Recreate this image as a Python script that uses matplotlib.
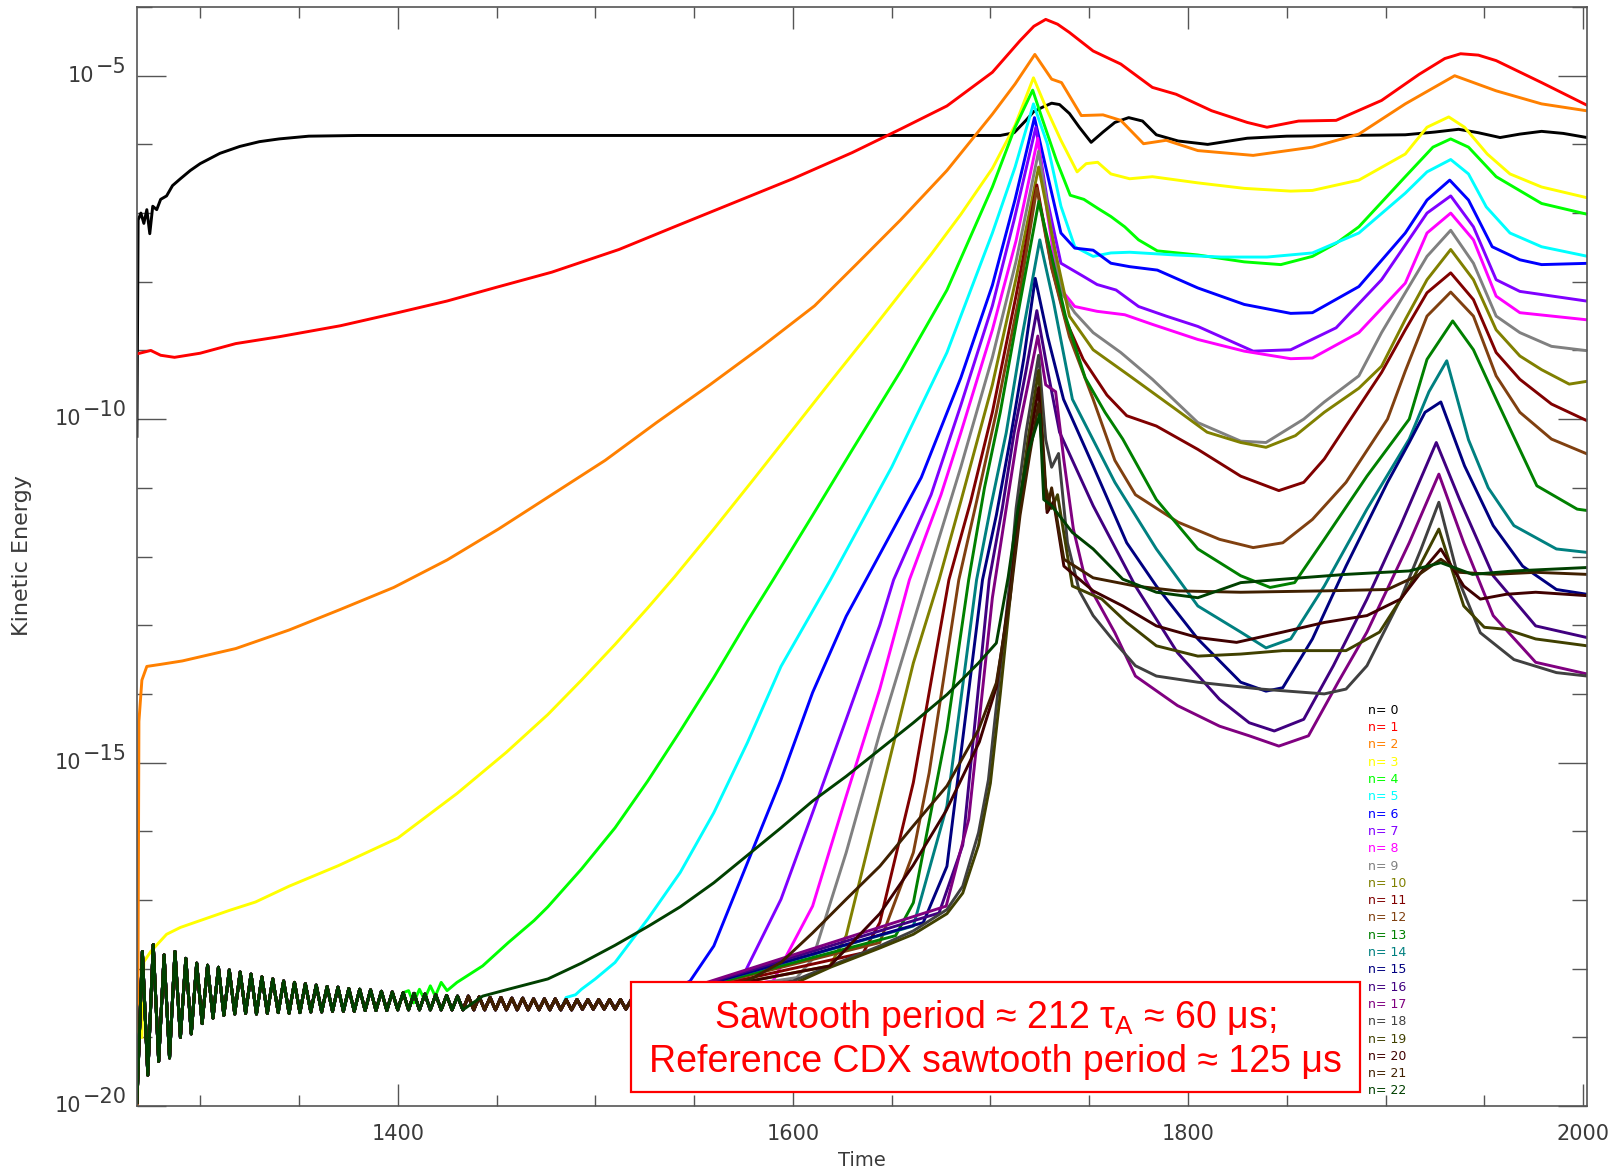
import numpy as np
import matplotlib.pyplot as plt
from matplotlib.patches import Rectangle
from matplotlib.ticker import FixedLocator, MultipleLocator, NullFormatter
from matplotlib.transforms import blended_transform_factory

plt.rcParams['mathtext.fontset'] = 'custom'
plt.rcParams['mathtext.rm'] = 'Liberation Sans'
plt.rcParams['mathtext.it'] = 'Liberation Sans:italic'

# shared noisy floor that the high-n modes sit on before they grow (log10 KE)
floor_t = np.arange(1268, 1531, 2.75)
floor_ke = [-19.95, -17.75, -19.55, -17.65, -19.35, -17.80, -19.30, -17.75, -19.00, -17.85,
            -18.95, -17.92, -18.80, -17.95, -18.72, -17.98, -18.68, -18.02, -18.66, -18.05,
            -18.65, -18.08, -18.66, -18.12, -18.65, -18.15, -18.64, -18.18, -18.65, -18.20,
            -18.64, -18.22, -18.63, -18.24, -18.63, -18.26, -18.62, -18.27, -18.62, -18.29,
            -18.62, -18.30, -18.61, -18.31, -18.61, -18.33, -18.61, -18.34, -18.60, -18.35,
            -18.60, -18.36, -18.60, -18.37, -18.60, -18.38, -18.60, -18.39, -18.60, -18.40,
            -18.60, -18.40, -18.60, -18.41, -18.60, -18.42, -18.60, -18.42, -18.60, -18.43,
            -18.60, -18.43, -18.60, -18.44, -18.60, -18.44, -18.60, -18.44, -18.60, -18.45,
            -18.60, -18.45, -18.59, -18.45, -18.59, -18.45, -18.59, -18.45, -18.59, -18.45,
            -18.59, -18.45, -18.59, -18.45, -18.59, -18.45]

t_n0 = [1268, 1268.6, 1270, 1271.5, 1273, 1274.5, 1276, 1278, 1280, 1283, 1286, 1290, 1295, 1300,
        1310, 1320, 1330, 1340, 1355, 1380, 1450, 1550, 1650, 1705, 1712, 1718, 1722, 1727, 1731,
        1735, 1740, 1745, 1751, 1757, 1763, 1770, 1777, 1784, 1795, 1810, 1830, 1850, 1880, 1910,
        1925, 1937, 1947, 1958, 1968, 1979, 1990, 2002]
ke_n0 = [-10.25, -7.1, -7.0, -7.15, -6.95, -7.3, -6.9, -6.95, -6.8, -6.75, -6.6, -6.5, -6.38, -6.28,
         -6.13, -6.03, -5.96, -5.92, -5.88, -5.87, -5.87, -5.87, -5.87, -5.87, -5.83, -5.65, -5.52,
         -5.45, -5.40, -5.42, -5.55, -5.75, -5.97, -5.82, -5.68, -5.61, -5.66, -5.86, -5.95, -6.0,
         -5.91, -5.88, -5.87, -5.86, -5.82, -5.78, -5.83, -5.9, -5.85, -5.81, -5.84, -5.9]

t_n1 = [1268, 1275, 1280, 1287, 1300, 1318, 1340, 1371, 1400, 1425, 1450, 1478, 1512, 1540, 1570,
        1600, 1630, 1655, 1678, 1701, 1715, 1722, 1728, 1734, 1740, 1752, 1766, 1782, 1794, 1812,
        1830, 1840, 1856, 1875, 1898, 1917, 1930, 1938, 1947, 1956, 1979, 2002]
ke_n1 = [-9.05, -9.0, -9.07, -9.1, -9.04, -8.9, -8.8, -8.64, -8.45, -8.28, -8.08, -7.86, -7.53, -7.2,
         -6.85, -6.5, -6.12, -5.77, -5.44, -4.95, -4.49, -4.28, -4.18, -4.25, -4.37, -4.64, -4.83,
         -5.17, -5.27, -5.51, -5.68, -5.75, -5.66, -5.65, -5.36, -4.98, -4.75, -4.68, -4.7, -4.78,
         -5.1, -5.43]

t_n2 = [1268.3, 1269, 1270.5, 1273, 1280, 1291, 1318, 1345, 1371, 1398, 1425, 1451, 1478, 1505, 1531,
        1558, 1584, 1611, 1632, 1654.5, 1678, 1701, 1712.5, 1722.5, 1731, 1736, 1746, 1757, 1766,
        1777.5, 1789, 1805, 1833, 1863, 1886.5, 1910, 1935, 1956, 1979, 2004]
ke_n2 = [-20.0, -14.4, -13.8, -13.6, -13.57, -13.52, -13.34, -13.07, -12.77, -12.45, -12.05, -11.6,
         -11.1, -10.6, -10.05, -9.5, -8.95, -8.35, -7.75, -7.1, -6.38, -5.56, -5.12, -4.69, -5.05,
         -5.1, -5.58, -5.57, -5.65, -5.99, -5.94, -6.09, -6.16, -6.04, -5.85, -5.41, -5.0, -5.22,
         -5.41, -5.52]

t_n3 = [1270.5, 1271.5, 1275, 1283, 1290, 1300, 1315, 1328, 1345, 1370, 1400, 1430, 1455, 1476, 1493,
        1510, 1526.5, 1540, 1560, 1580, 1600, 1620, 1640, 1655, 1670, 1685, 1701, 1712.5, 1721.8,
        1728.8, 1735.7, 1743.9, 1748.5, 1754.3, 1761, 1770.5, 1782, 1805, 1828.5, 1852, 1863,
        1886.5, 1910, 1921, 1932, 1940, 1951.5, 1963, 1979, 2004]
ke_n3 = [-19.0, -17.9, -17.75, -17.5, -17.4, -17.3, -17.15, -17.03, -16.8, -16.5, -16.1, -15.45, -14.85,
         -14.3, -13.8, -13.28, -12.75, -12.3, -11.6, -10.88, -10.15, -9.42, -8.7, -8.15, -7.6,
         -7.02, -6.35, -5.72, -5.03, -5.51, -5.94, -6.4, -6.28, -6.26, -6.43, -6.5, -6.47, -6.56,
         -6.64, -6.68, -6.67, -6.52, -6.14, -5.75, -5.6, -5.75, -6.14, -6.43, -6.62, -6.79]

t_n4 = [1405.5, 1408, 1411, 1413.5, 1416.5, 1419, 1422, 1425, 1430, 1443, 1456, 1469, 1476, 1493, 1510,
        1526.5, 1543, 1560, 1577, 1590, 1610, 1630, 1655, 1678, 1701, 1712.5, 1721.4, 1726.5, 1733.4,
        1740.4, 1747.3, 1754.3, 1761, 1768, 1775, 1784.5, 1805, 1828.5, 1847, 1863, 1875, 1886.5,
        1910, 1924, 1933, 1942, 1956, 1979, 2004]
ke_n4 = [-18.32, -18.5, -18.3, -18.45, -18.25, -18.4, -18.2, -18.32, -18.2, -17.96, -17.62, -17.3,
         -17.1, -16.55, -15.95, -15.27, -14.54, -13.76, -12.94, -12.34, -11.4, -10.45, -9.28, -8.12,
         -6.62, -5.75, -5.21, -5.65, -6.23, -6.74, -6.8, -6.93, -7.05, -7.2, -7.39, -7.55, -7.61,
         -7.71, -7.75, -7.63, -7.44, -7.2, -6.47, -6.04, -5.92, -6.04, -6.47, -6.86, -7.03]

t_n5 = [1485.25, 1490, 1493, 1500, 1510, 1526.5, 1543, 1560, 1577, 1594, 1619, 1650, 1678, 1701,
        1712.5, 1721.8, 1728.8, 1735.7, 1742.7, 1752, 1761, 1770.5, 1793.7, 1817, 1840, 1863, 1886.5,
        1910, 1921, 1933, 1942, 1951, 1963, 1979, 2004]
ke_n5 = [-18.42, -18.38, -18.3, -18.15, -17.91, -17.28, -16.6, -15.73, -14.71, -13.6, -12.34, -10.7,
         -9.03, -7.29, -6.33, -5.41, -5.99, -6.9, -7.49, -7.63, -7.58, -7.57, -7.61, -7.64, -7.64,
         -7.58, -7.29, -6.71, -6.4, -6.22, -6.43, -6.91, -7.29, -7.49, -7.64]

t_n6 = [1548, 1560, 1577, 1594, 1610, 1627, 1637, 1665, 1685, 1701, 1712.5, 1722.3, 1728.8, 1735.7,
        1742.7, 1752, 1761, 1770.5, 1784.5, 1805, 1828.5, 1852, 1863, 1886.5, 1910, 1921, 1932.5,
        1942, 1954, 1968, 1979, 2004]
ke_n6 = [-18.18, -17.67, -16.46, -15.25, -13.98, -12.87, -12.34, -10.85, -9.4, -8.05, -6.8, -5.61,
         -6.43, -7.29, -7.51, -7.54, -7.73, -7.78, -7.83, -8.09, -8.33, -8.46, -8.45, -8.07, -7.29,
         -6.81, -6.52, -6.81, -7.49, -7.68, -7.75, -7.73]

t_n7 = [1573.5, 1594, 1610, 1627, 1644, 1651, 1670, 1685, 1701, 1712, 1723, 1728.8, 1735.7, 1747, 1754,
        1763.6, 1775, 1789, 1805, 1833, 1852, 1875, 1898, 1921, 1933, 1944.5, 1956, 1968, 2004]
ke_n7 = [-18.18, -16.99, -15.73, -14.37, -13.0, -12.34, -11.1, -9.8, -8.35, -7.1, -5.75, -6.81, -7.73,
         -7.92, -8.04, -8.12, -8.36, -8.5, -8.65, -9.01, -8.99, -8.67, -7.97, -7.0, -6.75, -7.2, -7.97,
         -8.14, -8.29]

t_n8 = [1590, 1610, 1627, 1644, 1659, 1675, 1685, 1701, 1713, 1724, 1728.8, 1734.6, 1742.7, 1754, 1768,
        1782, 1805, 1828.5, 1852, 1863, 1886.5, 1910, 1921, 1933, 1944.5, 1956, 1968, 2004]
ke_n8 = [-18.18, -17.09, -15.49, -13.93, -12.34, -11.1, -10.2, -8.7, -7.4, -5.91, -7.0, -8.07, -8.36,
         -8.43, -8.48, -8.62, -8.84, -9.01, -9.12, -9.11, -8.74, -8.02, -7.29, -7.0, -7.39, -8.21,
         -8.45, -8.56]

t_n9 = [1602, 1610, 1627, 1644, 1667.5, 1685, 1701, 1713, 1724.4, 1731, 1736, 1742.7, 1752, 1766, 1782,
        1805, 1826.7, 1839.5, 1858.6, 1869, 1886.5, 1898, 1910, 1921, 1933, 1944.5, 1956, 1968, 1984,
        2004]
ke_n9 = [-18.13, -17.86, -16.31, -14.57, -12.34, -10.7, -9.1, -7.7, -6.1, -7.29, -8.16, -8.45, -8.74,
         -9.03, -9.42, -10.05, -10.32, -10.34, -10.0, -9.75, -9.37, -8.74, -8.16, -7.63, -7.25, -7.73,
         -8.5, -8.74, -8.94, -9.01]

t_n10 = [1618.8, 1627, 1644, 1661, 1674, 1685, 1701, 1713, 1724.4, 1733, 1740, 1752, 1770.5, 1794,
         1809.7, 1826.7, 1839.5, 1854.4, 1869, 1886.5, 1898, 1910, 1921, 1933, 1944.5, 1956, 1968,
         1979, 1993, 2004]
ke_n10 = [-17.96, -17.52, -15.54, -13.55, -12.34, -11.2, -9.5, -7.95, -6.33, -7.58, -8.5, -8.99, -9.37,
          -9.86, -10.19, -10.34, -10.41, -10.24, -9.9, -9.55, -9.23, -8.55, -7.97, -7.53, -7.97, -8.7,
          -9.08, -9.28, -9.49, -9.44]

t_n11 = [1635.6, 1644, 1661, 1679, 1690, 1701, 1713, 1723.5, 1731, 1738, 1747, 1759, 1769, 1784, 1805,
         1826.7, 1846, 1858.6, 1869, 1880, 1898, 1910, 1921, 1933, 1944.5, 1956, 1968, 1984, 2004]
ke_n11 = [-17.77, -17.33, -15.29, -12.34, -11.2, -9.9, -8.2, -6.59, -7.78, -8.55, -9.13, -9.65, -9.95,
          -10.1, -10.44, -10.83, -11.04, -10.92, -10.58, -10.1, -9.32, -8.7, -8.16, -7.87, -8.26,
          -9.03, -9.42, -9.78, -10.05]

t_n12 = [1644, 1661, 1669, 1684, 1693, 1703, 1714, 1723.5, 1731, 1740, 1752, 1763, 1773.4, 1795, 1816,
         1833, 1848, 1863, 1880, 1901, 1910, 1921, 1933, 1944.5, 1956, 1968, 1984, 2004]
ke_n12 = [-17.62, -16.31, -15.15, -12.34, -11.2, -9.9, -8.3, -6.64, -7.8, -8.8, -9.71, -10.6, -11.1,
          -11.5, -11.75, -11.87, -11.8, -11.46, -10.92, -10.0, -9.3, -8.5, -8.15, -8.5, -9.37, -9.9,
          -10.29, -10.53]

t_n13 = [1652, 1661, 1678, 1689, 1697, 1705, 1715, 1724.5, 1730, 1738, 1748, 1758, 1767, 1784, 1805,
         1826.7, 1841.6, 1854, 1869, 1890.6, 1912, 1921, 1934, 1944.5, 1956, 1976.6, 1997, 2002]
ke_n13 = [-17.52, -17.04, -14.52, -12.34, -11.0, -9.9, -8.3, -6.83, -7.5, -8.5, -9.4, -9.9, -10.29,
          -11.17, -11.89, -12.28, -12.45, -12.38, -11.75, -10.83, -10.0, -9.13, -8.57, -8.99, -9.71,
          -10.97, -11.31, -11.33]

t_n14 = [1661, 1678, 1693, 1700, 1708, 1716, 1725, 1732, 1741.5, 1763, 1784, 1805, 1826.7, 1839.5,
         1852, 1869, 1890.6, 1912, 1922, 1931, 1942, 1952, 1965, 1986.5, 2002]
ke_n14 = [-17.38, -15.63, -12.34, -11.3, -10.2, -8.8, -7.39, -8.3, -9.71, -10.92, -11.89, -12.72,
          -13.1, -13.33, -13.2, -12.43, -11.31, -10.29, -9.6, -9.15, -10.3, -11.0, -11.55, -11.89,
          -11.94]

t_n15 = [1666, 1678, 1696, 1703, 1710, 1717, 1722.7, 1729, 1737, 1752, 1769, 1784, 1805, 1826.7,
         1839.5, 1848, 1863, 1880, 1901, 1912, 1920, 1928, 1940, 1954.5, 1969.4, 1986.5, 2002]
ke_n15 = [-17.33, -16.51, -12.34, -11.4, -10.3, -9.1, -7.95, -8.8, -9.71, -10.68, -11.8, -12.43,
          -13.2, -13.83, -13.96, -13.91, -13.2, -12.14, -10.92, -10.34, -9.9, -9.75, -10.68, -11.55,
          -12.14, -12.48, -12.55]

t_n16 = [1674, 1686, 1699.4, 1706, 1712, 1718, 1723.5, 1729, 1735, 1752, 1773.4, 1794.7, 1816, 1831,
         1843.7, 1858.6, 1873.6, 1890.6, 1907.6, 1925.7, 1937.5, 1954.5, 1976, 2002]
ke_n16 = [-17.19, -16.2, -12.34, -11.3, -10.2, -9.3, -8.42, -9.3, -10.19, -11.26, -12.43, -13.4,
          -14.08, -14.42, -14.54, -14.37, -13.59, -12.62, -11.55, -10.34, -11.17, -12.28, -13.01,
          -13.18]

t_n17 = [1677.6, 1689, 1701, 1708, 1714, 1719, 1724, 1728, 1733, 1737.2, 1742, 1748, 1763, 1773.4,
         1794.7, 1816, 1831, 1846, 1861, 1876, 1890.6, 1912, 1927, 1939.6, 1954.5, 1976, 2002]
ke_n17 = [-17.09, -15.83, -12.6, -11.3, -10.2, -9.5, -8.79, -9.5, -9.6, -10.6, -11.6, -12.33, -13.11,
          -13.74, -14.17, -14.47, -14.61, -14.76, -14.61, -13.83, -13.1, -11.8, -10.8, -11.8, -12.86,
          -13.54, -13.71]

t_n18 = [1600, 1619, 1644, 1661, 1678, 1686, 1694, 1699, 1703, 1709.5, 1713, 1718, 1724.4, 1728, 1731,
         1734.5, 1739, 1745, 1752, 1763, 1773.4, 1784, 1805, 1837, 1869, 1880, 1890.6, 1907.6, 1918,
         1927, 1937.5, 1948, 1965, 1986.5, 2002]
ke_n18 = [-18.18, -17.96, -17.67, -17.45, -17.14, -16.8, -16.02, -15.25, -14.18, -12.45, -11.3, -10.2,
          -9.07, -10.3, -10.7, -10.5, -11.8, -12.5, -12.86, -13.25, -13.59, -13.74, -13.83, -13.93,
          -14.0, -13.93, -13.59, -12.62, -11.89, -11.21, -12.38, -13.11, -13.5, -13.69, -13.74]

t_n19 = [1602, 1619, 1644, 1661, 1678, 1686, 1694, 1700, 1705, 1710, 1714, 1719, 1724.4, 1728, 1731,
         1734, 1741.5, 1756.4, 1769, 1784, 1805, 1826.7, 1848, 1880, 1897, 1912, 1927, 1939.6, 1950,
         1961, 1976, 2002]
ke_n19 = [-18.2, -17.98, -17.7, -17.5, -17.2, -16.9, -16.2, -15.3, -14.0, -12.6, -11.4, -10.3, -9.29,
          -11.0, -11.3, -11.1, -12.43, -12.62, -12.96, -13.3, -13.45, -13.42, -13.37, -13.37, -13.1,
          -12.43, -11.6, -12.72, -13.03, -13.06, -13.2, -13.3]

t_n20 = [1618.8, 1644, 1660.8, 1677.6, 1694.4, 1703, 1710, 1715, 1720, 1724.4, 1728.7, 1732, 1737.2,
         1752, 1767, 1784, 1805, 1824.6, 1848, 1869, 1890.6, 1907.6, 1918, 1928, 1939.6, 1948, 1961,
         1976, 2002]
ke_n20 = [-17.96, -17.2, -16.5, -15.7, -14.7, -13.9, -12.5, -11.3, -10.3, -9.54, -11.36, -11.2,
          -12.14, -12.5, -12.72, -13.01, -13.18, -13.25, -13.1, -12.96, -12.86, -12.62, -12.23,
          -11.89, -12.43, -12.62, -12.55, -12.52, -12.57]

t_n21 = [1577, 1594, 1610, 1627, 1644, 1661, 1678, 1694, 1703, 1710, 1715, 1720, 1724.4, 1728.7, 1731,
         1737.2, 1752, 1773.4, 1794.7, 1826.7, 1869, 1901, 1916, 1928, 1937.5, 1954.5, 1976, 2002]
ke_n21 = [-18.18, -17.91, -17.48, -16.99, -16.51, -15.92, -15.34, -14.52, -13.84, -12.6, -11.4, -10.5,
          -9.77, -11.31, -11.0, -12.04, -12.31, -12.43, -12.5, -12.52, -12.5, -12.48, -12.28, -12.04,
          -12.23, -12.26, -12.23, -12.26]

t_n22 = [1443, 1456, 1476, 1493, 1510, 1527, 1543, 1560, 1577, 1594, 1610, 1627, 1644, 1661, 1678,
         1694, 1703, 1709, 1714, 1719, 1725, 1727, 1731, 1741.5, 1752, 1767, 1784, 1805, 1826.7, 1848,
         1880, 1912, 1928, 1944, 1965, 2002]
ke_n22 = [-18.4, -18.3, -18.15, -17.92, -17.66, -17.38, -17.1, -16.75, -16.35, -15.95, -15.56, -15.2,
          -14.81, -14.42, -14.01, -13.55, -13.26, -12.3, -11.3, -10.5, -9.93, -11.17, -11.26, -11.65,
          -11.89, -12.33, -12.52, -12.6, -12.38, -12.33, -12.26, -12.21, -12.09, -12.26, -12.21,
          -12.16]

times = [t_n0, t_n1, t_n2, t_n3, t_n4, t_n5, t_n6, t_n7, t_n8, t_n9, t_n10, t_n11, t_n12,
         t_n13, t_n14, t_n15, t_n16, t_n17, t_n18, t_n19, t_n20, t_n21, t_n22]
energies = [ke_n0, ke_n1, ke_n2, ke_n3, ke_n4, ke_n5, ke_n6, ke_n7, ke_n8, ke_n9, ke_n10, ke_n11,
            ke_n12, ke_n13, ke_n14, ke_n15, ke_n16, ke_n17, ke_n18, ke_n19, ke_n20, ke_n21, ke_n22]

# time at which each mode leaves the noise floor (None = never on it)
leave_floor = [None, None, None, None, 1404, 1483] + [1530] * 16 + [1434]

colors = ['#000000', '#FF0000', '#FF8000', '#FFFF00', '#00FF00', '#00FFFF', '#0000FF', '#8000FF',
          '#FF00FF', '#808080', '#808000', '#800000', '#804010', '#008000', '#008080', '#000080',
          '#400080', '#800080', '#404040', '#404000', '#400000', '#402000', '#004000']

y_exponents = [-20, -15, -10, -5]

fig = plt.figure(figsize=(16.13, 11.72), dpi=100)
ax = fig.add_axes([0.0849, 0.0563, 0.8990, 0.9377])

for n in range(23):
    t = list(times[n])
    ke = list(energies[n])
    if leave_floor[n] is not None:
        keep = floor_t < leave_floor[n]
        t = list(floor_t[keep]) + t
        ke = list(np.array(floor_ke)[keep]) + ke
    ax.plot(t, 10.0 ** np.array(ke), color=colors[n], lw=2.1, solid_joinstyle='round')

ax.set_yscale('log')
ax.set_xlim(1268, 2002)
ax.set_ylim(1e-20, 1e-4)

ax.xaxis.set_major_locator(FixedLocator([1400, 1600, 1800, 2000]))
ax.xaxis.set_minor_locator(MultipleLocator(50))
ax.yaxis.set_major_locator(FixedLocator([10.0 ** e for e in y_exponents]))
ax.yaxis.set_major_formatter(NullFormatter())
ax.yaxis.set_minor_locator(FixedLocator([10.0 ** k for k in range(-20, -3)]))
ax.yaxis.set_minor_formatter(NullFormatter())

tick_color = '#555555'
label_color = '#3a3a3a'
ax.tick_params(axis='both', which='both', direction='in', top=True, right=True,
               colors=tick_color, labelcolor=label_color, width=1.0, labelsize=15)
ax.tick_params(axis='x', which='major', length=16, pad=13)
ax.tick_params(axis='x', which='minor', length=8)
ax.tick_params(axis='y', which='major', length=21)
ax.tick_params(axis='y', which='minor', length=11)
for sp in ax.spines.values():
    sp.set_color(tick_color)
    sp.set_linewidth(1.2)

# y labels drawn as "10" plus a raised exponent of nearly the same size
renderer = fig.canvas.get_renderer()
ytrans = blended_transform_factory(ax.transAxes, ax.transData)
for e in y_exponents:
    ex = ax.text(-0.0069, 10.0 ** e, f'\u2212{abs(e)}', transform=ytrans, ha='right', va='center',
                 fontsize=15, color=label_color)
    ex.set_y(10.0 ** (e + 0.13))
    bb = ex.get_window_extent(renderer)
    x_right = (bb.x0 - 2) / fig.bbox.width
    y_mid = ax.transData.transform((1300, 10.0 ** e))[1] / fig.bbox.height
    fig.text(x_right, y_mid, '10', ha='right', va='center', fontsize=15, color=label_color)

fig.text(22 / 1613, 1 - 556 / 1172, 'Kinetic Energy', rotation=90, ha='center', va='center',
         fontsize=16, color=label_color)
fig.text(862 / 1613, 1 - 1160 / 1172, 'Time', ha='center', va='center', fontsize=14,
         color=label_color)

# mode legend as coloured text
for n in range(23):
    ax.text(0.849, 0.360 - n * 0.01574, f'n= {n}', transform=ax.transAxes, color=colors[n],
            fontsize=9, ha='left', va='center')

# annotation box
box = Rectangle((0.3407, 0.0123), 0.5027, 0.1005, transform=ax.transAxes,
                facecolor='white', edgecolor='#FF0000', lw=1.6, zorder=5)
ax.add_patch(box)
ax.text(0.592, 0.080, 'Sawtooth period ≈ 212 τ$_{\\mathrm{A}}$ ≈ 60 μs;', transform=ax.transAxes,
        ha='center', va='center', color='#FF0000', fontsize=27, family='Liberation Sans', zorder=6)
ax.text(0.592, 0.040, 'Reference CDX sawtooth period ≈ 125 μs', transform=ax.transAxes,
        ha='center', va='center', color='#FF0000', fontsize=27, family='Liberation Sans', zorder=6)

fig.savefig('out.png', dpi=100)
